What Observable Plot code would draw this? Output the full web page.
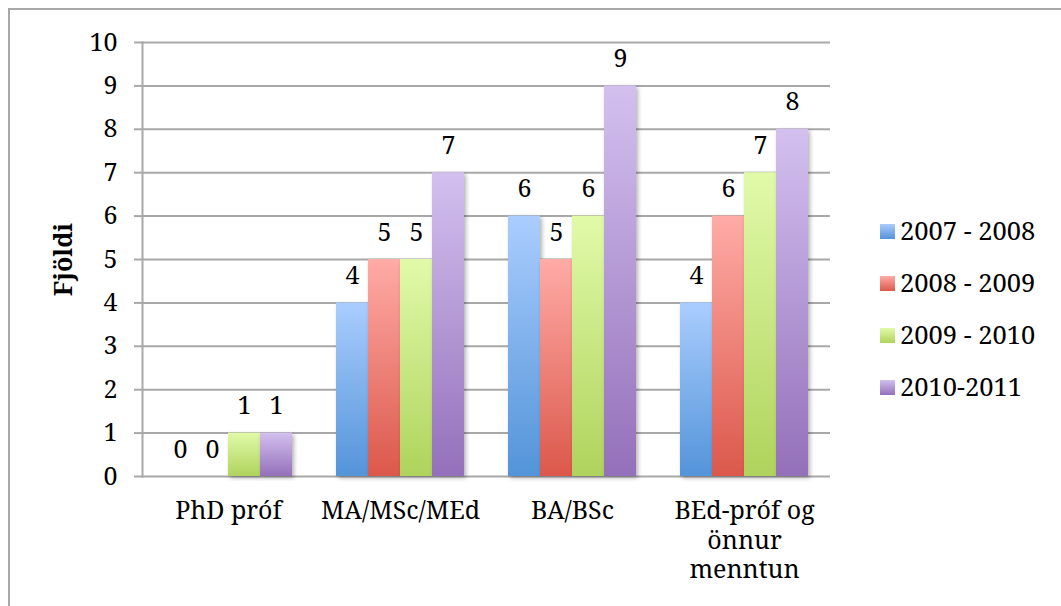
<!DOCTYPE html>
<html>
<head>
<meta charset="utf-8">
<script src="https://cdn.jsdelivr.net/npm/d3@7"></script>
<script src="https://cdn.jsdelivr.net/npm/@observablehq/plot@0.6"></script>
<style>
  html, body { margin: 0; padding: 0; background: #fff; }
  body { width: 1061px; height: 606px; position: relative; overflow: hidden; font-family: 'Noto Serif', serif; }
  #border { position: absolute; left: 8px; top: 8px; width: 1100px; height: 700px; border: 2px solid #a8a8a8; box-sizing: border-box; }
  #chart { position: absolute; left: 0; top: 0; }
  #chart svg, #chart svg text { font-family: 'Noto Serif', serif !important; }
  #legend { position: absolute; left: 880px; top: 205px; }
  .row { display: flex; align-items: center; height: 52px; }
  .sw { width: 15px; height: 15px; margin-right: 5px; }
  .lbl { font-size: 25.5px; color: #000; line-height: 1; font-family: 'Noto Serif', serif; }
</style>
</head>
<body>
<div id="border"></div>
<div id="chart"></div>
<div id="legend"></div>
<script>
const categories = ["PhD próf", "MA/MSc/MEd", "BA/BSc", "BEd-próf og\nönnur\nmenntun"];
const series = ["2007 - 2008", "2008 - 2009", "2009 - 2010", "2010-2011"];
const values2007 = [0, 4, 6, 4];
const values2008 = [0, 5, 5, 6];
const values2009 = [1, 5, 6, 7];
const values2010 = [1, 7, 9, 8];
const yTicks = [0, 1, 2, 3, 4, 5, 6, 7, 8, 9, 10];

const topColors = ["#aacdfe", "#ffaba6", "#e1faa9", "#d3c0ef"];
const bottomColors = ["#5394d9", "#db584b", "#afd35c", "#9470ba"];

const allValues = [values2007, values2008, values2009, values2010];
const data = [];
series.forEach((s, i) => {
  categories.forEach((c, j) => data.push({category: c, series: s, value: allValues[i][j]}));
});

const gray = "#a8a8a8";
const fs = 25;
const plot = Plot.plot({
  width: 1061,
  height: 606,
  marginLeft: 142,
  marginRight: 231,
  marginTop: 42,
  marginBottom: 130,
  style: {fontFamily: "'Noto Serif', serif", fontSize: fs + "px", color: "#000", background: "transparent"},
  fx: {domain: categories, padding: 0},
  x: {domain: series, paddingInner: 0, paddingOuter: 0.6875, axis: null},
  y: {domain: [0, 10], axis: null},
  color: {domain: series, range: series.map((s, i) => `url(#grad${i})`)},
  marks: [
    Plot.gridY(yTicks, {stroke: gray, strokeOpacity: 1, strokeWidth: 2}),
    Plot.axisY(yTicks, {tickSize: 8, tickPadding: 17, stroke: gray, strokeOpacity: 1, strokeWidth: 2, fill: "#000", fontSize: fs,
      label: "Fjöldi", labelArrow: "none", labelAnchor: "center", labelOffset: 88}),
    Plot.barY(data, {fx: "category", x: "series", y: "value", fill: "series"}),
    Plot.text(data, {fx: "category", x: "series", y: "value", text: d => String(d.value), dy: -27, fontSize: fs, fill: "#000"}),
    Plot.frame({anchor: "left", facetAnchor: "left", stroke: gray, strokeWidth: 2}),
    Plot.axisFx({anchor: "bottom", tickSize: 0, tickPadding: 22, fontSize: fs, lineHeight: 1.18, label: null, fill: "#000"})
  ]
});

// gradients and shadow
const ns = "http://www.w3.org/2000/svg";
const defs = document.createElementNS(ns, "defs");
series.forEach((s, i) => {
  const g = document.createElementNS(ns, "linearGradient");
  g.setAttribute("id", `grad${i}`);
  g.setAttribute("x1", "0"); g.setAttribute("y1", "0");
  g.setAttribute("x2", "0"); g.setAttribute("y2", "1");
  [[0, topColors[i]], [1, bottomColors[i]]].forEach(([o, c]) => {
    const st = document.createElementNS(ns, "stop");
    st.setAttribute("offset", o);
    st.setAttribute("stop-color", c);
    g.appendChild(st);
  });
  defs.appendChild(g);
});
const filter = document.createElementNS(ns, "filter");
filter.setAttribute("id", "shadow");
filter.setAttribute("x", "-20%"); filter.setAttribute("y", "-5%");
filter.setAttribute("width", "150%"); filter.setAttribute("height", "115%");
const fe = document.createElementNS(ns, "feDropShadow");
fe.setAttribute("dx", "2"); fe.setAttribute("dy", "2");
fe.setAttribute("stdDeviation", "2"); fe.setAttribute("flood-opacity", "0.3");
filter.appendChild(fe);
defs.appendChild(filter);
plot.insertBefore(defs, plot.firstChild);
plot.querySelectorAll('g[aria-label="bar"] rect').forEach(r => r.setAttribute("filter", "url(#shadow)"));
// bold y label without arrow
plot.querySelectorAll('g[aria-label="y-axis label"] text').forEach(t => {
  t.setAttribute("font-weight", "bold");
  t.textContent = "Fjöldi";
});

document.getElementById("chart").appendChild(plot);

// legend
const legend = document.getElementById("legend");
series.forEach((s, i) => {
  const row = document.createElement("div");
  row.className = "row";
  const sw = document.createElement("div");
  sw.className = "sw";
  sw.style.background = `linear-gradient(${topColors[i]}, ${bottomColors[i]})`;
  const lb = document.createElement("span");
  lb.className = "lbl";
  lb.textContent = s;
  row.appendChild(sw);
  row.appendChild(lb);
  legend.appendChild(row);
});
</script>
</body>
</html>
